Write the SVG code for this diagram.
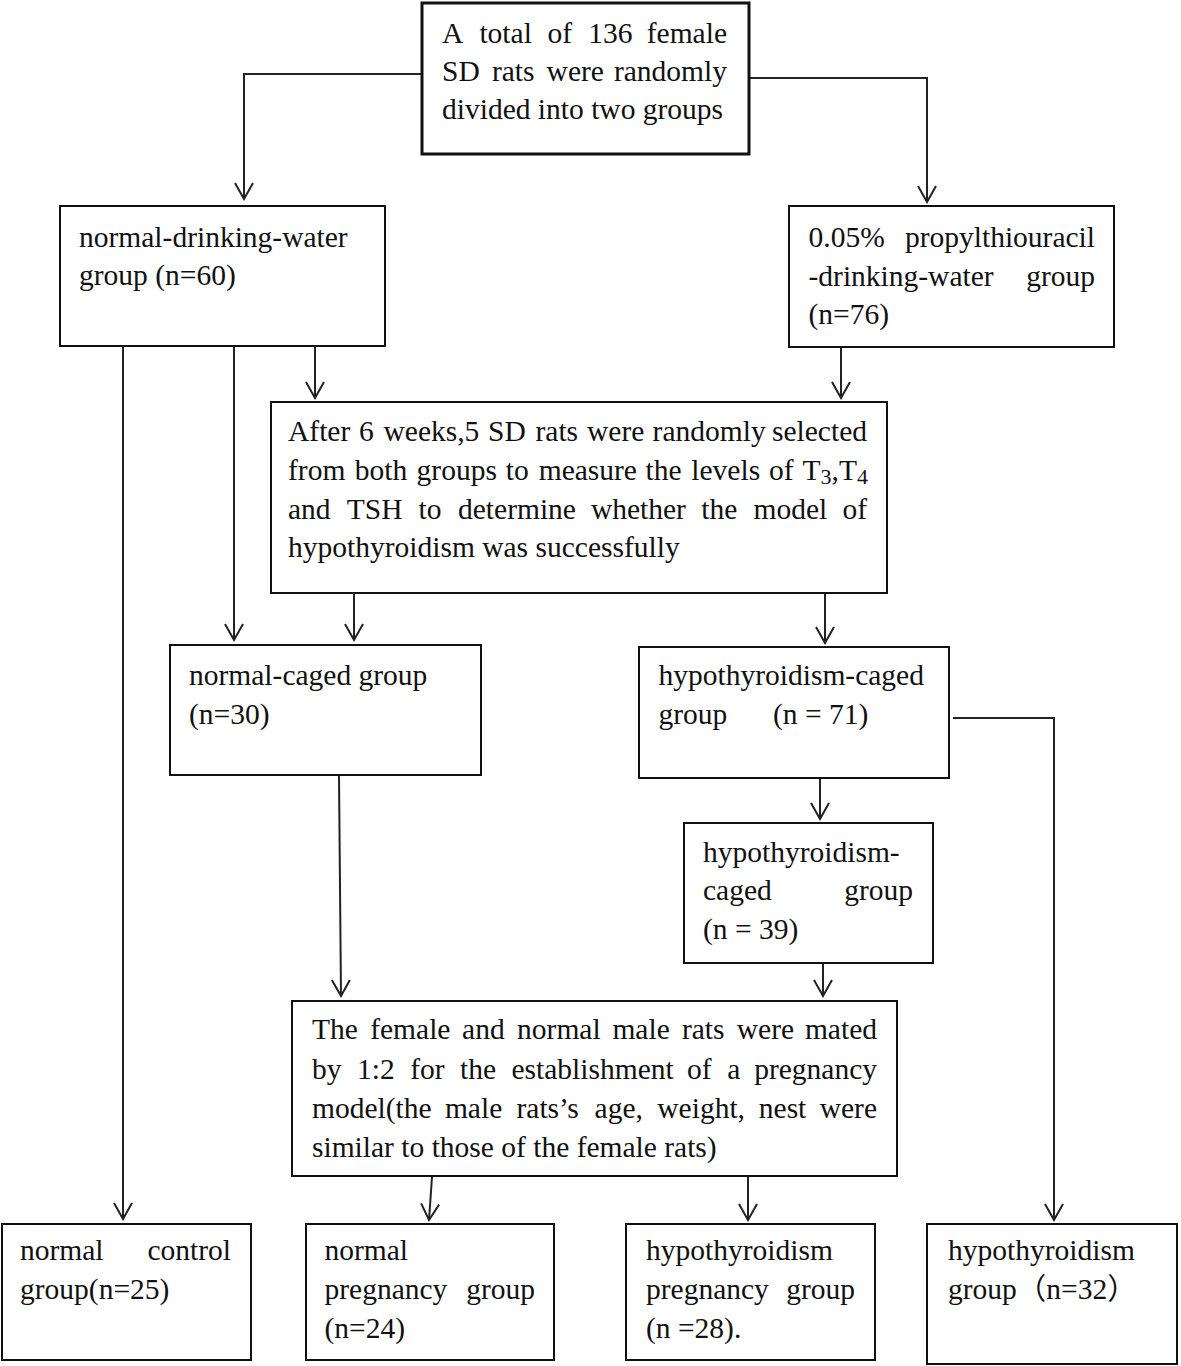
<svg xmlns="http://www.w3.org/2000/svg" width="1181" height="1366" viewBox="0 0 1181 1366">
<style>
.box{fill:#fff;stroke:#111;stroke-width:2}
.thick{stroke-width:3}
.con{fill:none;stroke:#222;stroke-width:2}
text{font-family:"Liberation Serif","Times New Roman","Noto Sans CJK SC",serif;font-size:29.5px;fill:#111}
.e{text-anchor:end}
</style>
<defs>
<marker id="arr" markerUnits="userSpaceOnUse" markerWidth="20" markerHeight="20" viewBox="-18 -10 20 20" refX="0" refY="0" orient="auto">
<path d="M-16,-9 L0,0 L-16,9" fill="none" stroke="#222" stroke-width="2"/>
</marker>
</defs>
<rect width="1181" height="1366" fill="#fff"/>
<g id="connectors">
<path class="con" d="M422,74 H244 V199" marker-end="url(#arr)"/>
<path class="con" d="M749,78 H927 V202" marker-end="url(#arr)"/>
<path class="con" d="M123,347 V1219" marker-end="url(#arr)"/>
<path class="con" d="M234,347 V640" marker-end="url(#arr)"/>
<path class="con" d="M315,347 V398" marker-end="url(#arr)"/>
<path class="con" d="M841,348 V398" marker-end="url(#arr)"/>
<path class="con" d="M354,594 V640" marker-end="url(#arr)"/>
<path class="con" d="M825,594 V643" marker-end="url(#arr)"/>
<path class="con" d="M339,776 L341,996" marker-end="url(#arr)"/>
<path class="con" d="M820,779 V819" marker-end="url(#arr)"/>
<path class="con" d="M823,964 V996" marker-end="url(#arr)"/>
<path class="con" d="M953,718 H1054 V1220" marker-end="url(#arr)"/>
<path class="con" d="M432,1177 L429,1220" marker-end="url(#arr)"/>
<path class="con" d="M748,1177 V1220" marker-end="url(#arr)"/>
</g>
<g id="n-total">
<rect class="box thick" x="422" y="3" width="327" height="151"/>
<text x="442" y="43">A</text><text x="479.4" y="43">total</text><text x="547.5" y="43">of</text><text x="588.2" y="43">136</text><text class="e" x="727" y="43">female</text>
<text x="442" y="81">SD</text><text x="491.9" y="81">rats</text><text x="546.6" y="81">were</text><text class="e" x="727" y="81">randomly</text>
<text x="442" y="119">divided into two groups</text>
</g>
<g id="n-normal-water">
<rect class="box" x="60" y="206" width="325" height="140"/>
<text x="79" y="247">normal-drinking-water</text>
<text x="79" y="285">group (n=60)</text>
</g>
<g id="n-ptu-water">
<rect class="box" x="789" y="206" width="325" height="141"/>
<text x="808.5" y="247">0.05%</text><text class="e" x="1095" y="247">propylthiouracil</text>
<text x="808.5" y="286">-drinking-water</text><text class="e" x="1095" y="286">group</text>
<text x="808.5" y="324">(n=76)</text>
</g>
<g id="n-six-weeks">
<rect class="box" x="271" y="402" width="616" height="191"/>
<text x="288" y="441">After</text><text x="359.1" y="441">6</text><text x="383.5" y="441">weeks,5</text><text x="488" y="441">SD</text><text x="535.5" y="441">rats</text><text x="587" y="441">were</text><text x="652.6" y="441">randomly</text><text class="e" x="867" y="441">selected</text>
<text x="288" y="480">from</text><text x="354.7" y="480">both</text><text x="416.6" y="480">groups</text><text x="505.8" y="480">to</text><text x="538.7" y="480">measure</text><text x="645.6" y="480">the</text><text x="691.3" y="480">levels</text><text x="769" y="480">of</text><text class="e" x="868" y="480">T<tspan font-size="22" dy="4">3</tspan><tspan dy="-4">,T</tspan><tspan font-size="22" dy="4">4</tspan></text>
<text x="288" y="519">and</text><text x="346.8" y="519">TSH</text><text x="418.5" y="519">to</text><text x="458" y="519">determine</text><text x="590.9" y="519">whether</text><text x="701.2" y="519">the</text><text x="753.5" y="519">model</text><text class="e" x="867" y="519">of</text>
<text x="288" y="557">hypothyroidism was successfully</text>
</g>
<g id="n-normal-caged">
<rect class="box" x="170" y="645" width="311" height="130"/>
<text x="189" y="685">normal-caged group</text>
<text x="189" y="724">(n=30)</text>
</g>
<g id="n-hypo-caged-71">
<rect class="box" x="639" y="647" width="310" height="131"/>
<text x="658.5" y="685">hypothyroidism-caged</text>
<text x="658.5" y="724">group</text><text x="773" y="724">(n = 71)</text>
</g>
<g id="n-hypo-caged-39">
<rect class="box" x="684" y="823" width="249" height="140"/>
<text x="703" y="862">hypothyroidism-</text>
<text x="703" y="900">caged</text><text class="e" x="913" y="900">group</text>
<text x="703" y="939">(n = 39)</text>
</g>
<g id="n-mating">
<rect class="box" x="292" y="1001" width="605" height="175"/>
<text x="312" y="1039">The</text><text x="370.2" y="1039">female</text><text x="462.1" y="1039">and</text><text x="517.1" y="1039">normal</text><text x="612.4" y="1039">male</text><text x="681.9" y="1039">rats</text><text x="736.8" y="1039">were</text><text class="e" x="877" y="1039">mated</text>
<text x="312" y="1079">by</text><text x="357" y="1079">1:2</text><text x="410.2" y="1079">for</text><text x="460" y="1079">the</text><text x="511.5" y="1079">establishment</text><text x="687" y="1079">of</text><text x="727.3" y="1079">a</text><text class="e" x="877" y="1079">pregnancy</text>
<text x="312" y="1118">model(the</text><text x="444.9" y="1118">male</text><text x="516.5" y="1118">rats’s</text><text x="594.6" y="1118">age,</text><text x="657.3" y="1118">weight,</text><text x="758.8" y="1118">nest</text><text class="e" x="877" y="1118">were</text>
<text x="312" y="1157">similar to those of the female rats)</text>
</g>
<g id="n-normal-control">
<rect class="box" x="2" y="1224" width="249" height="136"/>
<text x="20" y="1260">normal</text><text class="e" x="231" y="1260">control</text>
<text x="20" y="1299">group(n=25)</text>
</g>
<g id="n-normal-pregnancy">
<rect class="box" x="306" y="1224" width="248" height="136"/>
<text x="324.5" y="1260">normal</text>
<text x="324.5" y="1299">pregnancy</text><text class="e" x="535" y="1299">group</text>
<text x="324.5" y="1338">(n=24)</text>
</g>
<g id="n-hypo-pregnancy">
<rect class="box" x="626" y="1224" width="249" height="136"/>
<text x="646" y="1260">hypothyroidism</text>
<text x="646" y="1299">pregnancy</text><text class="e" x="855" y="1299">group</text>
<text x="646" y="1338">(n =28).</text>
</g>
<g id="n-hypo-group">
<rect class="box" x="927" y="1224" width="250" height="140"/>
<text x="948" y="1260">hypothyroidism</text>
<text x="948" y="1299">group（n=32）</text>
</g>
</svg>
